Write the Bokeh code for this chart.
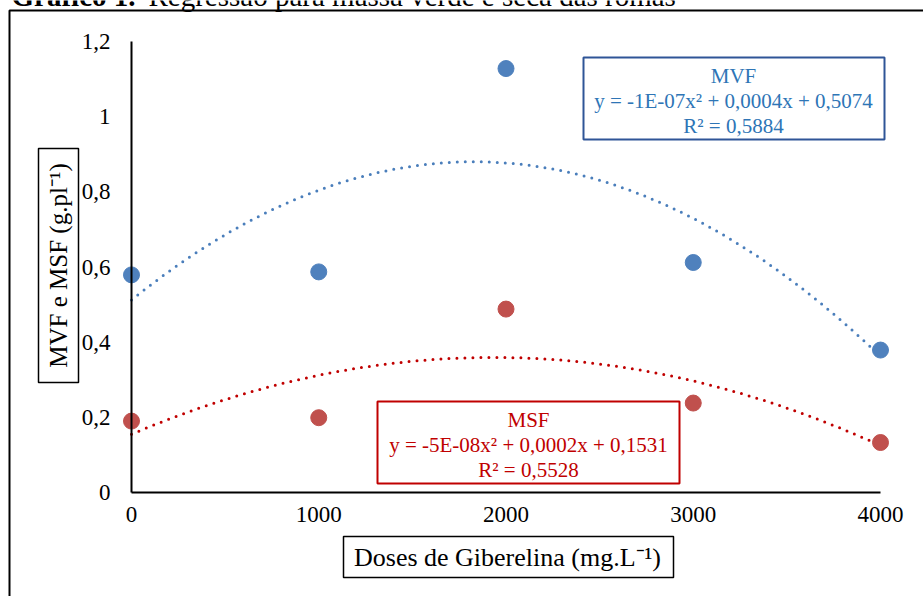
import numpy as np
from math import pi
from bokeh.plotting import figure
from bokeh.models import Label, BoxAnnotation, Range1d, FixedTicker, LinearAxis
from bokeh.embed import file_html
from bokeh.resources import INLINE

# ---------------- data ----------------
doses = [0, 1000, 2000, 3000, 4000]
mvf = [0.579, 0.587, 1.128, 0.612, 0.379]
msf = [0.190, 0.199, 0.488, 0.238, 0.133]

x_ticks = [0, 1000, 2000, 3000, 4000]
x_tick_labels = ["0", "1000", "2000", "3000", "4000"]
y_ticks = [0, 0.2, 0.4, 0.6, 0.8, 1, 1.2]
y_tick_labels = ["0", "0,2", "0,4", "0,6", "0,8", "1", "1,2"]

title_bold = "Gráfico 1."
title_rest = "Regressão para massa verde e seca das romãs"
x_title = "Doses de Giberelina (mg.L\u207b\u00b9)"
y_title = "MVF e MSF (g.pl\u207b\u00b9)"
mvf_lines = ["MVF", "y = -1E-07x\u00b2 + 0,0004x + 0,5074", "R\u00b2 = 0,5884"]
msf_lines = ["MSF", "y = -5E-08x\u00b2 + 0,0002x + 0,1531", "R\u00b2 = 0,5528"]

# ---------------- layout ----------------
W, H = 923, 596
X0_PX, X1_PX = 131, 880
Y0_PX, Y1_PX = 492, 41
sx = (X1_PX - X0_PX) / 4000.0
sy = (Y0_PX - Y1_PX) / 1.2


def dx(px):
    return (px - X0_PX) / sx


def dy(py):
    return (Y0_PX - py) / sy


FONT = "Liberation Serif"
C_MVF = "#4F81BD"
C_MVF_TREND = "#4A7EBB"
C_MSF = "#C0504D"
C_MSF_TREND = "#C00000"
C_MVF_TEXT = "#2E75B6"
C_MVF_BOX = "#2F5597"

p = figure(width=W, height=H,
           x_range=Range1d(dx(0), dx(W)), y_range=Range1d(dy(H), dy(0)),
           output_backend="svg", toolbar_location=None,
           x_axis_location=None, y_axis_location=None,
           min_border_left=0, min_border_top=0,
           min_border_right=0, min_border_bottom=0,
           background_fill_color="white", border_fill_color="white")
p.outline_line_color = None
p.xgrid.visible = False
p.ygrid.visible = False

yax = LinearAxis(fixed_location=0, bounds=(0, 1.2),
                 ticker=FixedTicker(ticks=y_ticks),
                 major_label_overrides={t: l for t, l in zip(y_ticks, y_tick_labels)},
                 major_tick_line_color=None, minor_tick_line_color=None,
                 major_tick_out=0, major_tick_in=0,
                 axis_line_color="black", axis_line_width=2,
                 major_label_standoff=21,
                 major_label_text_font=FONT, major_label_text_font_size="23px",
                 major_label_text_color="black")
p.add_layout(yax, "left")

xax = LinearAxis(fixed_location=0, bounds=(0, 4000),
                 ticker=FixedTicker(ticks=x_ticks),
                 major_label_overrides={t: l for t, l in zip(x_ticks, x_tick_labels)},
                 major_tick_line_color=None, minor_tick_line_color=None,
                 major_tick_out=0, major_tick_in=0,
                 axis_line_color="black", axis_line_width=2,
                 major_label_standoff=14,
                 major_label_text_font=FONT, major_label_text_font_size="23px",
                 major_label_text_color="black")
p.add_layout(xax, "below")

# trendlines (2nd-order polynomial fits of the data)
xs = np.linspace(0, 4000, 201)
fit_mvf = np.polyval(np.polyfit(doses, mvf, 2), xs)
fit_msf = np.polyval(np.polyfit(doses, msf, 2), xs)
p.line(xs, fit_mvf, line_color=C_MVF_TREND, line_width=3, line_dash="0 8", line_cap="round")
p.line(xs, fit_msf, line_color=C_MSF_TREND, line_width=3, line_dash="0 8", line_cap="round")

p.scatter(doses, mvf, size=16, fill_color=C_MVF, line_color=C_MVF)
p.scatter(doses, msf, size=16, fill_color=C_MSF, line_color=C_MSF)


def box(l, t, r, b, color, w=2):
    p.add_layout(BoxAnnotation(left=dx(l), right=dx(r), top=dy(t), bottom=dy(b),
                               fill_color=None, fill_alpha=0,
                               line_color=color, line_alpha=1.0, line_width=w))


def lab(x, y, text, color="black", size="21px", **kw):
    p.add_layout(Label(x=dx(x), y=dy(y), text=text, text_font=FONT,
                       text_font_size=size, text_color=color, **kw))


# outer chart border (continues past the right and bottom edges)
box(9, 10, 960, 640, "black", 2)

# regression boxes
box(583, 57, 884, 139, C_MVF_BOX)
for yy, t in zip([75, 100, 125], mvf_lines):
    lab(733, yy, t, C_MVF_TEXT, "21px", text_align="center", text_baseline="middle")

box(377, 401, 679, 483, C_MSF_TREND)
for yy, t in zip([419, 444, 469], msf_lines):
    lab(528, yy, t, C_MSF_TREND, "21px", text_align="center", text_baseline="middle")

# axis titles in boxes
box(343, 536, 673, 577, "black", 1.5)
lab(507, 557, x_title, "black", "26px", text_align="center", text_baseline="middle")

box(38, 148, 78, 382, "black", 1.5)
lab(58, 265, y_title, "black", "25px", text_align="center", text_baseline="middle", angle=pi / 2)

# page title (cut off at the top)
lab(11, -5, title_bold, "black", "29px", text_align="left", text_baseline="alphabetic",
    text_font_style="bold")
lab(148, -5, title_rest, "black", "29px", text_align="left", text_baseline="alphabetic")

open("out.html", "w").write(file_html(p, INLINE))
